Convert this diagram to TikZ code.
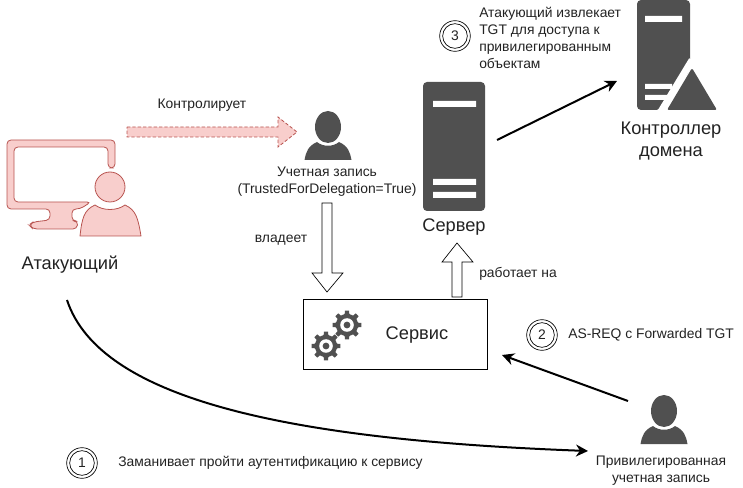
\documentclass[tikz,border=0pt]{standalone}
\usepackage{fontspec}
\setmainfont{Liberation Sans}
\usetikzlibrary{arrows.meta}
\definecolor{dk}{HTML}{505050}
\definecolor{pinkf}{HTML}{F8CECC}
\definecolor{pinkd}{HTML}{B85450}
\definecolor{txt}{HTML}{222222}
\tikzset{
  x=0.75pt,y=-0.75pt,
  lbl/.style={inner sep=0pt,text=txt,font=\fontsize{10.4}{12.75}\selectfont,align=center},
  lblbig/.style={inner sep=0pt,text=txt,font=\fontsize{13.7}{16.5}\selectfont,align=center},
  lblleft/.style={lbl,align=left,anchor=west},
  flow/.style={draw=black,line width=1.5pt,-{Stealth[length=9pt,width=9pt]}},
  num/.style={circle,draw=black,line width=0.5pt,minimum size=23pt,inner sep=0pt,font=\fontsize{10.4}{11}\selectfont,text=txt},
  numin/.style={circle,draw=black,line width=0.5pt,minimum size=18.5pt,inner sep=0pt},
  hollow/.style={draw=black,fill=white,line width=0.5pt},
  persona/.pic={
    \fill[dk] (0,0) ellipse (13 and 16);
    \fill[dk] (-23.5,33) .. controls (-22,25) and (-20,19) .. (-11,15) .. controls (-5,20) and (5,20) .. (11,15) .. controls (20,19) and (22,25) .. (23.5,33) -- cycle;
  },
  gearshape/.pic={
    \fill[dk]
      (0:11.2)
      \foreach \a in {0,45,...,315} {
        -- (\a-12:11.2) -- (\a-8:14.6) -- (\a+8:14.6) -- (\a+12:11.2) -- (\a+33:11.2)
      } -- cycle;
    \fill[white] (0,0) circle (6.8);
    \fill[dk] (0,0) circle (3.4);
  }
}
\begin{document}
\begin{tikzpicture}
\useasboundingbox (0,0) rectangle (743,488);
% attacker
\fill[pinkf,draw=pinkd,line width=0.6pt,rounded corners=3pt,even odd rule]
  (7,140) -- (115,140) -- (115,168) -- (108,168) -- (108,147) -- (14,147) -- (14,202) -- (91,202) -- (80,209) -- (72,209) -- (72,221) -- (78,221) -- (77,229) -- (33,229) -- (29,225) -- (33,222) -- (50,220) -- (50,209) -- (7,209) -- cycle;
\fill[pinkf,draw=pinkd,line width=0.6pt] (110,187) circle (15);
\fill[pinkf,draw=pinkd,line width=0.6pt] (80,236) .. controls (82,218) and (84,210) .. (95,205) .. controls (103,211) and (117,211) .. (125,205) .. controls (136,210) and (138,218) .. (141,236) -- cycle;
\node[lblbig] (attacker) at (70,265) {Атакующий};
% dashed arrow
\draw[pinkd,fill=pinkf,line width=0.6pt,dash pattern=on 2.5pt off 1.5pt]
  (127,127) -- (278,127) -- (278,117) -- (297,132) -- (278,147) -- (278,137) -- (127,137) -- cycle;
\node[lbl] (ctrl) at (202,105) {Контролирует};
% account
\pic at (328,127) {persona};
\node[lbl] (account) at (327,181.5) {Учетная запись\\(TrustedForDelegation=True)};
% hollow arrows
\node[lbl] (owns) at (281,240) {владеет};
\draw[hollow] (322,203) -- (332,203) -- (332,273) -- (343,273) -- (327,292) -- (312,273) -- (322,273) -- cycle;
\draw[hollow] (452,297) -- (462,297) -- (462,262) -- (473,262) -- (457,243) -- (442,262) -- (452,262) -- cycle;
\node[lbl] (runs) at (518,274) {работает на};
% service
\node[draw=black,line width=0.75pt,fill=white,minimum width=138pt,minimum height=52.5pt,inner sep=0pt] (svc) at (395,335) {};
\pic at (347,325) {gearshape};
\pic at (326,346) {gearshape};
\node[lblbig] (svct) at (417,335) {Сервис};
% server
\fill[dk,rounded corners=3pt] (423,211) -- (423,82) -- (485,82) -- (485,211) -- cycle;
\fill[white] (433,101) rectangle (476,107) (433,179) rectangle (476,185) (433,192) rectangle (476,198);
\node[lblbig] (srv) at (454,227) {Сервер};
% DC
\fill[dk,rounded corners=3pt] (637,110) -- (637,0) -- (690,0) -- (690,70) -- (660,110) -- cycle;
\fill[white] (645,16) rectangle (682,22) (645,84) rectangle (672,89) (645,95) rectangle (672,100);
\draw[white,line width=5pt] (692,60) -- (660,113);
\fill[dk,rounded corners=1.5pt] (692,68) -- (717,110) -- (667,110) -- cycle;
\node[lblbig] (dc) at (671,141) {Контроллер\\домена};
% priv
\pic at (664,411) {persona};
\node[lbl] (priv) at (661,470.5) {Привилегированная\\учетная запись};
% flows
\coordinate (a1) at (497,140); \coordinate (a2) at (617,81);
\draw[flow] (a1) -- (a2);
\coordinate (b1) at (628,401); \coordinate (b2) at (502,355);
\draw[flow] (b1) -- (b2);
\coordinate (c1) at (67,300); \coordinate (c2) at (588,451);
\draw[flow] (c1) .. controls (100,400) and (290,440) .. (c2);
% numbers
\node[num] (n1) at (82,463) {1}; \node[numin] at (n1) {};
\node[num] (n2) at (542,335) {2}; \node[numin] at (n2) {};
\node[num] (n3) at (455,36) {3}; \node[numin] at (n3) {};
\node[lblleft] (t1) at (118,463) {Заманивает пройти аутентификацию к сервису};
\node[lblleft] (t2) at (568,335) {AS-REQ с Forwarded TGT};
\node[lblleft] (t3) at (479,38) {Атакующий извлекает\\TGT для доступа к\\привилегированным\\объектам};
\end{tikzpicture}
\end{document}
